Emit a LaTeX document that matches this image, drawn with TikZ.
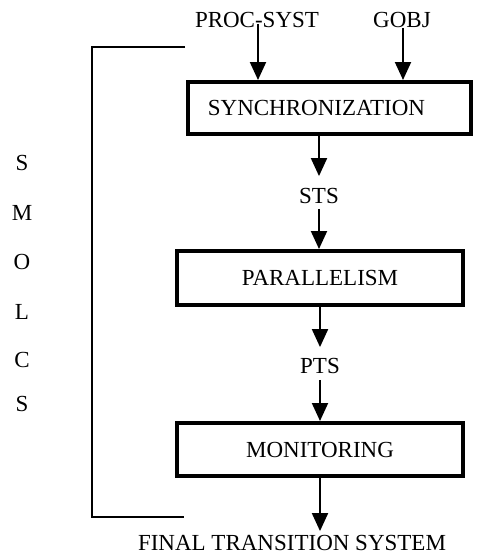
\documentclass[tikz,border=0pt]{standalone}
\usepackage{fontspec}
\setmainfont{Liberation Serif}
\usetikzlibrary{arrows.meta}
\begin{document}
\begin{tikzpicture}[x=1pt,y=-1pt,
  box/.style={draw,line width=4pt,inner sep=0pt,font=\fontsize{23}{26}\selectfont},
  lbl/.style={inner sep=0pt,font=\fontsize{23}{26}\selectfont},
  arr/.style={line width=2pt,-{Triangle[length=18pt,width=16pt]}},
  brk/.style={line width=2pt}]
\useasboundingbox (0,0) rectangle (491,557);
% boxes
\node[box,minimum width=283pt,minimum height=52pt] (sync) at (329.5,108) {\hspace*{-26pt}SYNCHRONIZATION};
\node[box,minimum width=286pt,minimum height=54pt] (par) at (320,278) {PARALLELISM};
\node[box,minimum width=286pt,minimum height=53pt] (mon) at (320,449.5) {MONITORING};
% labels
\node[lbl] (proc) at (257,20) {PROC-SYST};
\node[lbl] (gobj) at (402,20) {GOBJ};
\node[lbl] (sts) at (319,196) {STS};
\node[lbl] (pts) at (320,366) {PTS};
\node[lbl] (fin) at (292,543) {FINAL TRANSITION SYSTEM};
% SMOLCS
\node[lbl] (s1) at (22,163) {S};
\node[lbl] (s2) at (22,213) {M};
\node[lbl] (s3) at (22,262) {O};
\node[lbl] (s4) at (22,312) {L};
\node[lbl] (s5) at (22,360) {C};
\node[lbl] (s6) at (22,404) {S};
% bracket
\coordinate (b1) at (185,47);
\coordinate (b2) at (92,47);
\coordinate (b3) at (92,517);
\coordinate (b4) at (184,517);
\draw[brk] (b1) -- (b2) -- (b3) -- (b4);
% arrows
\coordinate (px) at (258,0);
\coordinate (gx) at (403,0);
\draw[arr,shorten <=-4pt] (proc.south -| px) -- (sync.north -| px);
\draw[arr] (gobj.south -| gx) -- (sync.north -| gx);
\draw[arr,shorten >=12pt] (sync.south -| sts) -- (sts.north);
\draw[arr,shorten <=5pt] (sts.south) -- (par.north -| sts);
\draw[arr,shorten >=11pt] (par.south -| pts) -- (pts.north);
\draw[arr,shorten <=6pt] (pts.south) -- (mon.north -| pts);
\coordinate (fx) at (320,0);
\draw[arr,shorten >=4pt] (mon.south -| fx) -- (fin.north -| fx);
\end{tikzpicture}
\end{document}
